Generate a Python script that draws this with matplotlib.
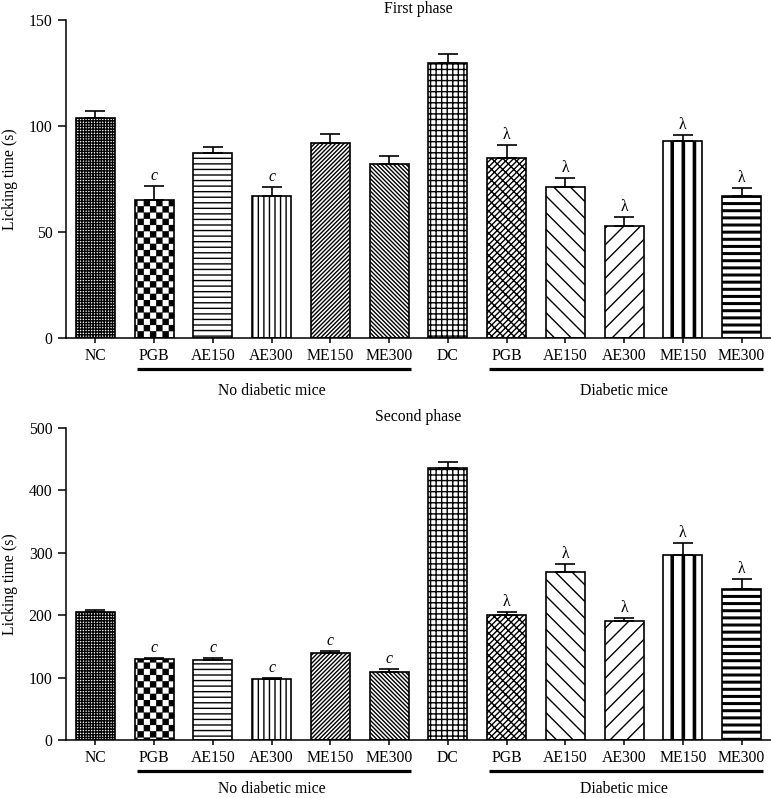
import warnings
import numpy as np
import matplotlib
matplotlib.use('Agg')
import matplotlib.pyplot as plt
import matplotlib.hatch as mhatch
from matplotlib.path import Path
from matplotlib.transforms import blended_transform_factory, offset_copy

warnings.filterwarnings('ignore')

# ---------------- data ----------------
groups = ['NC', 'PGB', 'AE150', 'AE300', 'ME150', 'ME300',
          'DC', 'PGB', 'AE150', 'AE300', 'ME150', 'ME300']
phase1 = [103.8, 64.8, 87.2, 66.9, 92.0, 82.0, 129.8, 85.0, 71.0, 52.8, 92.9, 66.7]
phase1_err = [3.3, 7.0, 3.0, 4.3, 4.0, 4.0, 4.0, 6.0, 4.4, 4.0, 3.0, 4.0]
phase2 = [204.9, 129.7, 127.5, 97.1, 138.7, 108.3, 435.4, 200.6, 268.4, 191.0, 296.7, 241.2]
phase2_err = [3.0, 2.0, 3.0, 1.6, 4.0, 5.0, 9.6, 4.0, 13.0, 4.0, 19.0, 17.0]
phase1_marks = ['', 'c', '', 'c', '', '', '', 'λ', 'λ', 'λ', 'λ', 'λ']
phase2_marks = ['', 'c', 'c', 'c', 'c', 'c', '', 'λ', 'λ', 'λ', 'λ', 'λ']
titles = ['First phase', 'Second phase']
ylims = [150, 500]
yticks = [[0, 50, 100, 150], [0, 100, 200, 300, 400, 500]]
group_labels = ['No diabetic mice', 'Diabetic mice']
group_spans = [(1, 5), (7, 11)]


# ---------------- custom hatch patterns ----------------
class CustomHatch(mhatch.HatchPatternBase):
    """'c' -> checkerboard, 'v' -> thick vertical stripes, 'h' -> thick horizontal stripes."""

    def __init__(self, hatch, density):
        self.rects = []
        nc = hatch.count('c')
        nv = hatch.count('v')
        nh = hatch.count('h')
        if nc:
            s = 1.0 / nc
            ins = 0.006
            for i in range(nc):
                for j in range(nc):
                    if (i + j) % 2 == 0:
                        self.rects.append((i * s + ins, j * s + ins, (i + 1) * s - ins, (j + 1) * s - ins))
        if nv:
            s = 1.0 / nv
            w = 0.022
            for i in range(nv):
                x0 = i * s + s / 2 - w / 2
                self.rects.append((x0, 0.0, x0 + w, 1.0))
        if nh:
            s = 1.0 / nh
            w = 0.016
            for i in range(nh):
                y0 = i * s + s / 2 - w / 2
                self.rects.append((0.0, y0, 1.0, y0 + w))
        self.num_vertices = 5 * len(self.rects)

    def set_vertices_and_codes(self, vertices, codes):
        k = 0
        for (x0, y0, x1, y1) in self.rects:
            vertices[k:k + 5] = [(x0, y0), (x1, y0), (x1, y1), (x0, y1), (x0, y0)]
            codes[k:k + 5] = [Path.MOVETO, Path.LINETO, Path.LINETO, Path.LINETO, Path.CLOSEPOLY]
            k += 5


mhatch._hatch_types.append(CustomHatch)

hatches = ['+' * 6, 'c' * 16, '-' * 3, '|' * 3, '/' * 8, '\\' * 8,
           '+' * 3, '/' * 6 + '\\' * 3, '\\' * 2, '/' * 2, 'v' * 9, 'h' * 14]

plt.rcParams['font.family'] = ['Liberation Serif', 'DejaVu Serif']
plt.rcParams['hatch.linewidth'] = 1.0
FS = 11.3

W, H = 771, 798
fig = plt.figure(figsize=(W / 100, H / 100), dpi=100)
axes_px = [(66, 20, 771, 337.7), (66, 427.7, 771, 740)]
label_offsets = [-53, -49]

series = [(phase1, phase1_err, phase1_marks), (phase2, phase2_err, phase2_marks)]
x = np.arange(len(groups))

for k, (ax_px, (vals, errs, marks)) in enumerate(zip(axes_px, series)):
    l, t, r, b = ax_px
    ax = fig.add_axes([l / W, 1 - b / H, (r - l) / W, (b - t) / H])
    bars = ax.bar(x, vals, width=0.66, color='white', edgecolor='black', linewidth=1.2, zorder=2)
    for bar, h in zip(bars, hatches):
        bar.set_hatch(h)
    ax.errorbar(x, vals, yerr=[np.zeros(len(vals)), errs], fmt='none', ecolor='black',
                elinewidth=1.2, capsize=7, capthick=1.2, zorder=3)
    for xi, v, e, m in zip(x, vals, errs, marks):
        if m:
            ax.annotate(m, xy=(xi, v + e), xytext=(0, 1.5), textcoords='offset points',
                        ha='center', va='bottom', fontsize=FS,
                        style='italic' if m == 'c' else 'normal')
    ax.set_xlim(-0.5, 11.5)
    ax.set_ylim(0, ylims[k])
    ax.set_yticks(yticks[k])
    ax.set_xticks(x)
    ax.set_xticklabels(groups)
    ax.spines['top'].set_visible(False)
    ax.spines['right'].set_visible(False)
    ax.spines['left'].set_linewidth(1.1)
    ax.spines['bottom'].set_linewidth(1.1)
    ax.tick_params(axis='y', direction='out', length=5.5, width=1.1, pad=4.3, labelsize=FS)
    ax.tick_params(axis='x', direction='out', length=3.6, width=1.1, pad=3.6, labelsize=FS)
    ax.set_ylabel('Licking time (s)', fontsize=FS)
    ax.yaxis.set_label_coords(-0.068, 0.5)
    ax.set_title(titles[k], fontsize=FS, pad=5)

    blend = blended_transform_factory(ax.transData, ax.transAxes)
    line_tr = offset_copy(blend, fig=fig, y=-31, units='dots')
    text_tr = offset_copy(blend, fig=fig, y=label_offsets[k], units='dots')
    for (g0, g1), lab in zip(group_spans, group_labels):
        ax.plot([g0 - 0.3, g1 + 0.37], [0, 0], color='black', lw=2.3,
                solid_capstyle='butt', transform=line_tr, clip_on=False)
        ax.text((g0 + g1) / 2, 0, lab, ha='center', va='center', fontsize=FS,
                transform=text_tr)

fig.savefig('out.png', dpi=100)
